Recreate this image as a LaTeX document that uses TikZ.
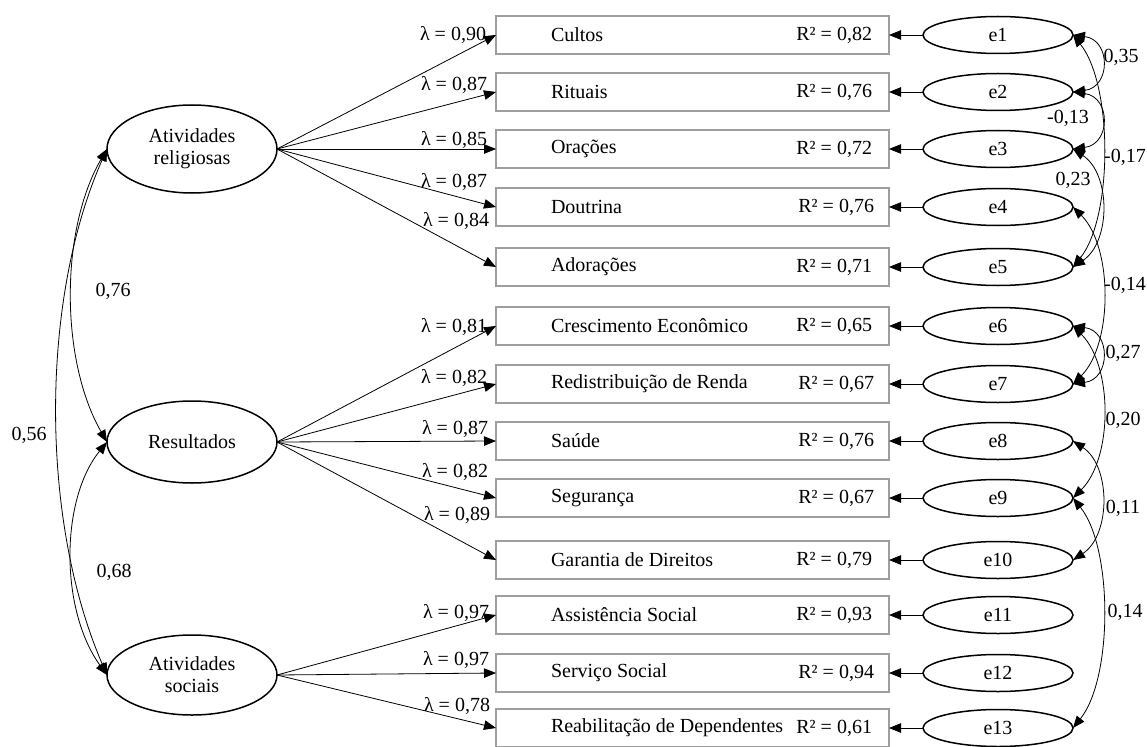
\documentclass[tikz,border=0pt]{standalone}
\usepackage{fontspec}
\setmainfont{Liberation Serif}
\usetikzlibrary{shapes.geometric,arrows.meta}
\begin{document}
\begin{tikzpicture}[x=1pt,y=-1pt,
  every node/.style={font=\fontsize{20}{22}\selectfont, inner sep=0pt, outer sep=0pt},
  latent/.style={ellipse, draw, line width=1.5pt, minimum width=170pt, align=center},
  err/.style={ellipse, draw, line width=1.5pt, minimum width=150pt, minimum height=37pt},
  obs/.style={rectangle, draw=black!38, line width=1.4pt, minimum width=393pt, minimum height=38pt},
  tip/.tip={Triangle[length=12pt,width=9.5pt]},
  arr/.style={-tip, line width=0.8pt},
  cov/.style={tip-tip, line width=0.8pt},
  lam/.style={anchor=east},
  vname/.style={anchor=west},
  rsq/.style={anchor=east}]
\useasboundingbox (0,0) rectangle (1147,746);

% latent variables
\node[latent, minimum height=88pt] (rel) at (192,149) {Atividades\\religiosas};
\node[latent, minimum height=82pt] (res) at (192,442) {Resultados};
\node[latent, minimum height=80pt] (soc) at (192,675) {Atividades\\sociais};

% observed boxes
\node[obs] (b1) at (692.5,35) {};
\node[obs] (b2) at (692.5,92) {};
\node[obs] (b3) at (692.5,149) {};
\node[obs] (b4) at (692.5,207) {};
\node[obs] (b5) at (692.5,267) {};
\node[obs] (b6) at (692.5,326) {};
\node[obs] (b7) at (692.5,384) {};
\node[obs] (b8) at (692.5,441) {};
\node[obs] (b9) at (692.5,498) {};
\node[obs] (b10) at (692.5,560) {};
\node[obs] (b11) at (692.5,615) {};
\node[obs] (b12) at (692.5,673) {};
\node[obs] (b13) at (692.5,728) {};

% box texts
\node[vname] (t1) at (551,35) {Cultos};
\node[vname] (t2) at (551,92) {Rituais};
\node[vname] (t3) at (551,149) {Orações};
\node[vname] (t4) at (551,207) {Doutrina};
\node[vname] (t5) at (551,267) {Adorações};
\node[vname] (t6) at (551,326) {Crescimento Econômico};
\node[vname] (t7) at (551,384) {Redistribuição de Renda};
\node[vname] (t8) at (551,441) {Saúde};
\node[vname] (t9) at (551,498) {Segurança};
\node[vname] (t10) at (551,560) {Garantia de Direitos};
\node[vname] (t11) at (551,615) {Assistência Social};
\node[vname] (t12) at (551,673) {Serviço Social};
\node[vname] (t13) at (551,728) {Reabilitação de Dependentes};

\node[rsq] (r1) at (872,35) {R² = 0,82};
\node[rsq] (r2) at (872,92) {R² = 0,76};
\node[rsq] (r3) at (872,149) {R² = 0,72};
\node[rsq] (r4) at (874,207) {R² = 0,76};
\node[rsq] (r5) at (872,267) {R² = 0,71};
\node[rsq] (r6) at (872,326) {R² = 0,65};
\node[rsq] (r7) at (874,384) {R² = 0,67};
\node[rsq] (r8) at (874,441) {R² = 0,76};
\node[rsq] (r9) at (874,498) {R² = 0,67};
\node[rsq] (r10) at (872,560) {R² = 0,79};
\node[rsq] (r11) at (872,615) {R² = 0,93};
\node[rsq] (r12) at (874,673) {R² = 0,94};
\node[rsq] (r13) at (872,728) {R² = 0,61};

% error terms
\node[err] (e1) at (998,35) {e1};
\node[err] (e2) at (998,92) {e2};
\node[err] (e3) at (998,149) {e3};
\node[err] (e4) at (998,207) {e4};
\node[err] (e5) at (998,267) {e5};
\node[err] (e6) at (998,326) {e6};
\node[err] (e7) at (998,384) {e7};
\node[err] (e8) at (998,441) {e8};
\node[err] (e9) at (998,498) {e9};
\node[err] (e10) at (998,560) {e10};
\node[err] (e11) at (998,615) {e11};
\node[err] (e12) at (998,673) {e12};
\node[err] (e13) at (998,728) {e13};

% error -> box
\foreach \i in {1,...,13} {\draw[arr] (e\i) -- (b\i);}

% loadings
\foreach \i in {1,...,5} {\draw[arr] (rel.east) -- (b\i.west);}
\foreach \i in {6,...,10} {\draw[arr] (res.east) -- (b\i.west);}
\foreach \i in {11,...,13} {\draw[arr] (soc.east) -- (b\i.west);}

\node[lam] (l1) at (486,35) {λ = 0,90};
\node[lam] (l2) at (487,85) {λ = 0,87};
\node[lam] (l3) at (487,140) {λ = 0,85};
\node[lam] (l4) at (487,182) {λ = 0,87};
\node[lam] (l5) at (489,221) {λ = 0,84};
\node[lam] (l6) at (487,327) {λ = 0,81};
\node[lam] (l7) at (487,378) {λ = 0,82};
\node[lam] (l8) at (488,429) {λ = 0,87};
\node[lam] (l9) at (488,472) {λ = 0,82};
\node[lam] (l10) at (490,515) {λ = 0,89};
\node[lam] (l11) at (489,613) {λ = 0,97};
\node[lam] (l12) at (489,660) {λ = 0,97};
\node[lam] (l13) at (490,706) {λ = 0,78};

% latent covariances
\draw[cov] (rel.west) .. controls (60,230) and (60,360) .. (res.west);
\draw[cov] (rel.west) .. controls (40,300) and (40,520) .. (soc.west);
\draw[cov] (res.west) .. controls (60,500) and (60,610) .. (soc.west);
\node (c1) at (113,291) {0,76};
\node (c2) at (29,435) {0,56};
\node (c3) at (114,572) {0,68};

% error covariances
\draw[cov] (e1.east) .. controls +(38,5) and +(38,-5) .. (e2.east);
\draw[cov] (e2.east) .. controls +(38,5) and +(38,-5) .. (e3.east);
\draw[cov] (e1.east) .. controls +(40,50) and +(40,-50) .. (e5.east);
\draw[cov] (e3.east) .. controls +(38,25) and +(38,-25) .. (e5.east);
\draw[cov] (e4.east) .. controls +(40,40) and +(40,-40) .. (e7.east);
\draw[cov] (e6.east) .. controls +(38,5) and +(38,-5) .. (e7.east);
\draw[cov] (e6.east) .. controls +(40,40) and +(40,-40) .. (e9.east);
\draw[cov] (e8.east) .. controls +(38,25) and +(38,-25) .. (e10.east);
\draw[cov] (e9.east) .. controls +(40,50) and +(40,-50) .. (e13.east);

\node (k1) at (1121,57) {0,35};
\node (k2) at (1068,118) {-0,13};
\node (k3) at (1125,157) {-0,17};
\node (k4) at (1073,180) {0,23};
\node (k5) at (1125,285) {-0,14};
\node (k6) at (1123,353) {0,27};
\node (k7) at (1123,420) {0,20};
\node (k8) at (1123,508) {0,11};
\node (k9) at (1125,612) {0,14};
\end{tikzpicture}
\end{document}
